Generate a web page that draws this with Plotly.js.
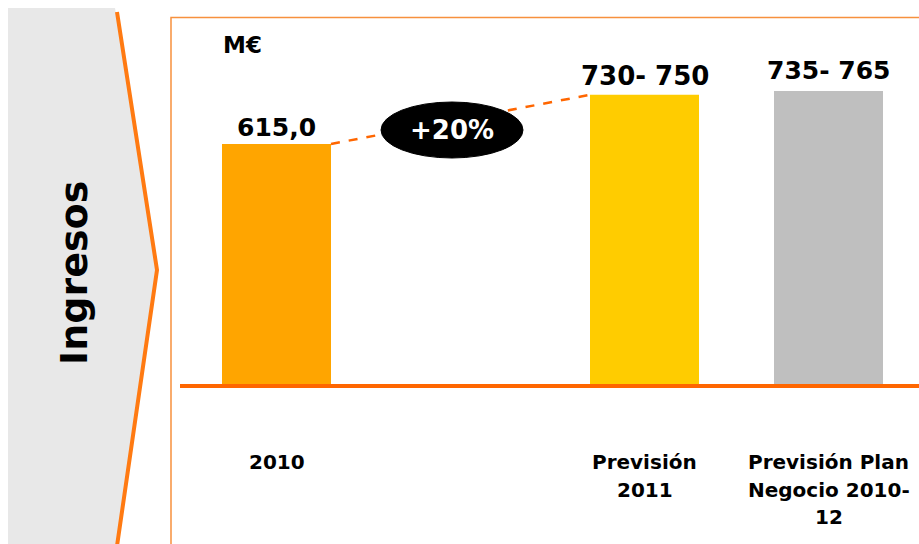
<!DOCTYPE html>
<html>
<head>
<meta charset="utf-8">
<script src="https://cdn.plot.ly/plotly-3.0.1.min.js"></script>
<style>html,body{margin:0;padding:0;background:#fff;}#chart{width:919px;height:544px;}</style>
</head>
<body>
<div id="chart"></div>
<script>
// ---- data ----
const categories = ['2010', '', 'Previsión 2011', 'Previsión Plan Negocio 2010-12'];
const tickLines = [['2010'], [], ['Previsión', '2011'], ['Previsión Plan', 'Negocio 2010-', '12']];
const values = [615, null, 740, 750];
const valueLabels = ['615,0', '', '730- 750', '735- 765'];
const barColors = ['#FFA500', '#FFFFFF', '#FFCC00', '#BFBFBF'];
const growthLabel = '+20%';
const unitLabel = 'M€';
const sideTitle = 'Ingresos';

// ---- layout helpers (positions only) ----
const W = 919, H = 544;
const baseY = 386, pxPerUnit = 0.3935, pxPerCat = 184, x0px = 276.5;
const X = px => px / W;
const Y = py => 1 - py / H;
const yd = py => (baseY - py) / pxPerUnit;
const xd = px => (px - x0px) / pxPerCat;
const barW = 109 / pxPerCat;
const FONT = 'DejaVu Sans, Verdana, sans-serif';

const xIdx = categories.map((c, i) => i);

const bars = {
  type: 'bar', x: xIdx, y: values, width: barW,
  marker: {color: barColors, line: {width: 0}},
  hoverinfo: 'skip'
};
const connector = {
  type: 'scatter', mode: 'lines',
  x: [xIdx[0] + barW / 2, xIdx[2] - barW / 2],
  y: [values[0], values[2]],
  line: {color: '#FF6600', width: 2.5, dash: 'dash'},
  hoverinfo: 'skip'
};

const annotations = [];
// value labels
const valShift = [17, 0, 19, 20];
xIdx.forEach((x, i) => {
  if (values[i] == null) return;
  annotations.push({
    x: x, y: values[i], xref: 'x', yref: 'y', text: '<b>' + valueLabels[i] + '</b>',
    showarrow: false, yanchor: 'middle', xanchor: 'center', yshift: valShift[i],
    font: {family: FONT, size: i === 2 ? 26 : 25, color: '#000'}
  });
});
// category labels
const linePy = [462, 490, 517];
xIdx.forEach((x, i) => {
  tickLines[i].forEach((t, j) => {
    annotations.push({
      x: x, y: yd(linePy[j]), xref: 'x', yref: 'y', text: '<b>' + t + '</b>',
      showarrow: false, yanchor: 'middle', xanchor: 'center',
      font: {family: FONT, size: 20, color: '#000'}
    });
  });
});
// growth label
annotations.push({
  x: xd(452), y: yd(130), xref: 'x', yref: 'y', text: '<b>' + growthLabel + '</b>',
  showarrow: false, xanchor: 'center', yanchor: 'middle',
  font: {family: FONT, size: 26, color: '#fff'}
});
// unit label
annotations.push({
  x: X(221), y: Y(45), xref: 'paper', yref: 'paper', xanchor: 'left', yanchor: 'middle',
  text: '<b>' + unitLabel + '</b>', showarrow: false,
  font: {family: FONT, size: 23, color: '#000'}
});
// side title
annotations.push({
  x: X(74), y: Y(273), xref: 'paper', yref: 'paper', textangle: -90,
  xanchor: 'center', yanchor: 'middle',
  text: '<b>' + sideTitle + '</b>', showarrow: false,
  font: {family: FONT, size: 38, color: '#000'}
});

const p = (px, py) => X(px).toFixed(5) + ',' + Y(py).toFixed(5);
const shapes = [
  // grey chevron panel
  {type: 'path', xref: 'paper', yref: 'paper', layer: 'below',
   path: 'M' + p(8, 8) + ' L' + p(115, 8) + ' L' + p(156, 270) + ' L' + p(117, 544) + ' L' + p(8, 544) + ' Z',
   fillcolor: '#E8E8E8', line: {width: 0}},
  // chevron orange edge
  {type: 'path', xref: 'paper', yref: 'paper', layer: 'below',
   path: 'M' + p(117, 12) + ' L' + p(157, 270) + ' L' + p(117, 546),
   line: {color: '#FF7A12', width: 4}},
  // orange frame
  {type: 'path', xref: 'paper', yref: 'paper', layer: 'below',
   path: 'M' + p(171, 546) + ' L' + p(171, 17.5) + ' L' + p(921, 17.5),
   line: {color: '#F7913D', width: 1.5}},
  // baseline
  {type: 'line', xref: 'paper', yref: 'y', layer: 'above',
   x0: X(180), x1: X(921), y0: 0, y1: 0,
   line: {color: '#FF6600', width: 4}},
  // ellipse
  {type: 'circle', xref: 'x', yref: 'y', layer: 'above',
   x0: xd(381), x1: xd(523), y0: yd(158), y1: yd(102),
   fillcolor: '#000', line: {color: '#000', width: 1}}
];

const layout = {
  width: W, height: H,
  margin: {l: 0, r: 0, t: 0, b: 0},
  paper_bgcolor: '#fff', plot_bgcolor: 'rgba(0,0,0,0)',
  showlegend: false,
  xaxis: {range: [xd(0), xd(W)], visible: false, fixedrange: true},
  yaxis: {range: [yd(H), yd(0)], visible: false, fixedrange: true},
  shapes: shapes,
  annotations: annotations
};

Plotly.newPlot('chart', [bars, connector], layout, {displayModeBar: false, staticPlot: true});
</script>
</body>
</html>
